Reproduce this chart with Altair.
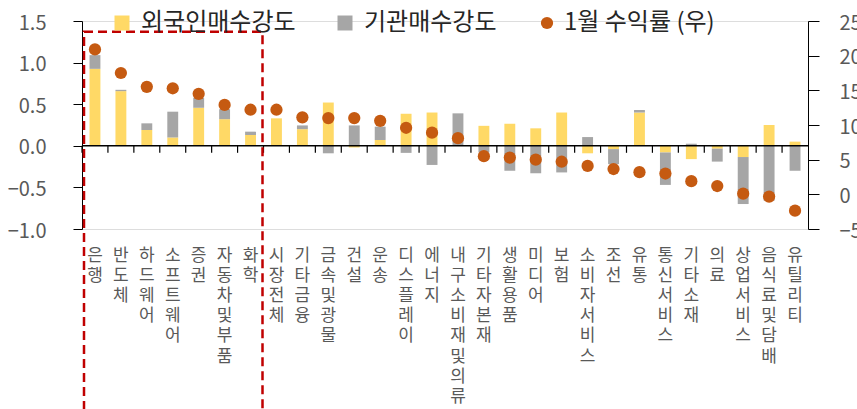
import altair as alt
import pandas as pd

FONT = "Noto Sans CJK KR"

categories = ["은행", "반도체", "하드웨어", "소프트웨어", "증권", "자동차및부품", "화학",
              "시장전체", "기타금융", "금속및광물", "건설", "운송", "디스플레이", "에너지",
              "내구소비재및의류", "기타자본재", "생활용품", "미디어", "보험", "소비자서비스",
              "조선", "유통", "통신서비스", "기타 소재", "의료", "상업서비스", "음식료및담배", "유틸리티"]
foreign = [0.925, 0.657, 0.19, 0.10, 0.457, 0.32, 0.13,
           0.33, 0.20, 0.52, -0.02, 0.07, 0.385, 0.40,
           0.0, 0.24, 0.265, 0.21, 0.40, -0.09,
           -0.04, 0.40, -0.08, -0.16, -0.035, -0.135, 0.25, 0.05]
inst = [0.165, 0.016, 0.08, 0.31, 0.12, 0.12, 0.04,
        0.0, 0.045, -0.09, 0.245, 0.16, -0.085, -0.23,
        0.39, -0.08, -0.30, -0.33, -0.32, 0.105,
        -0.18, 0.03, -0.39, 0.025, -0.155, -0.565, -0.66, -0.30]
ret = [20.9, 17.5, 15.5, 15.3, 14.5, 12.9, 12.2,
       12.2, 11.1, 11.0, 11.0, 10.6, 9.6, 8.9,
       8.1, 5.5, 5.3, 5.0, 4.7, 4.1,
       3.65, 3.2, 3.0, 1.9, 1.2, 0.1, -0.33, -2.35]

left_ticks = [-1.0, -0.5, 0.0, 0.5, 1.0, 1.5]
right_ticks = [-5, 0, 5, 10, 15, 20, 25]
series_names = ["외국인매수강도", "기관매수강도"]
ret_name = "1월 수익률 (우)"
box_start, box_end = "은행", "시장전체"
box_top, box_bottom = 1.37, -3.3

bar_df = pd.DataFrame(
    [{"cat": c, "series": series_names[0], "value": f, "ord": 0} for c, f in zip(categories, foreign)]
    + [{"cat": c, "series": series_names[1], "value": v, "ord": 1} for c, v in zip(categories, inst)]
)
ret_df = pd.DataFrame({"cat": categories, "ret": ret, "series": ret_name})
tick_df = pd.DataFrame({"cat": categories, "zero": 0.0})
zero_df = pd.DataFrame({"zero": [0.0]})
box_df = pd.DataFrame({"start": [box_start], "end": [box_end], "top": [box_top], "bottom": [box_bottom]})

x_scale = alt.Scale(domain=categories, paddingInner=0, paddingOuter=0)
x_axis = alt.Axis(title=None, domain=False, ticks=False, labelAngle=0, labelAlign="center",
                  labelBaseline="top", labelExpr="split(datum.label, '')", labelFontSize=17,
                  labelLineHeight=20.2, labelColor="#595959", labelPadding=18,
                  labelOverlap=False, labelFont=FONT, labelLimit=0)

yl_scale = alt.Scale(domain=[-1.0, 1.5], nice=False, zero=False)
yl_axis = alt.Axis(title=None, values=left_ticks, format=".1f", grid=False, orient="left",
                   domainColor="#000000", tickColor="#000000", tickSize=9, labelPadding=27,
                   labelFontSize=20, labelColor="#595959", labelFont=FONT, labelOffset=2)
yr_scale = alt.Scale(domain=[-5, 25], nice=False, zero=False)
yr_axis = alt.Axis(title=None, values=right_ticks, format="d", grid=False, orient="right",
                   domainColor="#000000", tickColor="#000000", tickSize=11, labelPadding=20,
                   labelFontSize=20, labelColor="#595959", labelFont=FONT, labelOffset=2)

bars = alt.Chart(bar_df).mark_bar(width=alt.RelativeBandSize(0.42)).encode(
    x=alt.X("cat:N", sort=categories, scale=x_scale, axis=x_axis),
    y=alt.Y("value:Q", stack="zero", scale=yl_scale, axis=yl_axis),
    color=alt.Color("series:N", scale=alt.Scale(domain=series_names, range=["#FFD966", "#A6A6A6"]),
                    legend=alt.Legend(orient="none", legendX=28, legendY=-10, direction="horizontal",
                                      title=None, symbolType="square", symbolSize=225,
                                      symbolStrokeWidth=0, labelFontSize=24, labelFont=FONT,
                                      labelColor="#262626", columnPadding=37, labelOffset=7)),
    order=alt.Order("ord:Q"),
)

zero_line = alt.Chart(zero_df).mark_rule(color="#000000", strokeWidth=1.5).encode(
    y=alt.Y("zero:Q", scale=yl_scale, axis=yl_axis)
)

ticks = alt.Chart(tick_df).mark_rule(color="#000000", strokeWidth=1.2, y2Offset=7).encode(
    x=alt.X("cat:N", sort=categories, scale=x_scale, axis=x_axis, bandPosition=0),
    y=alt.Y("zero:Q", scale=yl_scale, axis=yl_axis),
    y2="zero:Q",
)

box = alt.Chart(box_df).mark_rect(filled=False, stroke="#C00000", strokeWidth=2.5,
                                  strokeDash=[9, 5], xOffset=2, x2Offset=-1).encode(
    x=alt.X("start:N", scale=x_scale, axis=x_axis, bandPosition=0),
    x2=alt.X2("end:N", bandPosition=0),
    y=alt.Y("top:Q", scale=yl_scale, axis=yl_axis),
    y2="bottom:Q",
)

left_layer = alt.layer(bars, zero_line, ticks, box)

dots = alt.Chart(ret_df).mark_circle(size=150, opacity=1).encode(
    x=alt.X("cat:N", sort=categories, scale=x_scale, axis=x_axis),
    y=alt.Y("ret:Q", scale=yr_scale, axis=yr_axis),
    color=alt.Color("series:N", scale=alt.Scale(domain=[ret_name], range=["#C55A11"]),
                    legend=alt.Legend(orient="none", legendX=453, legendY=-10, direction="horizontal",
                                      title=None, symbolType="circle", symbolSize=150,
                                      symbolStrokeWidth=0, labelFontSize=24, labelFont=FONT,
                                      labelColor="#262626", labelOffset=5)),
)

chart = alt.layer(left_layer, dots).resolve_scale(
    y="independent", color="independent"
).properties(
    width=726, height=208,
    autosize=alt.AutoSizeParams(type="none"),
    padding={"left": 82, "top": 21, "right": 49, "bottom": 180},
).configure_view(stroke=None).configure(font=FONT, background="white")

chart.save("out.html", embed_options={"renderer": "svg", "actions": False})
